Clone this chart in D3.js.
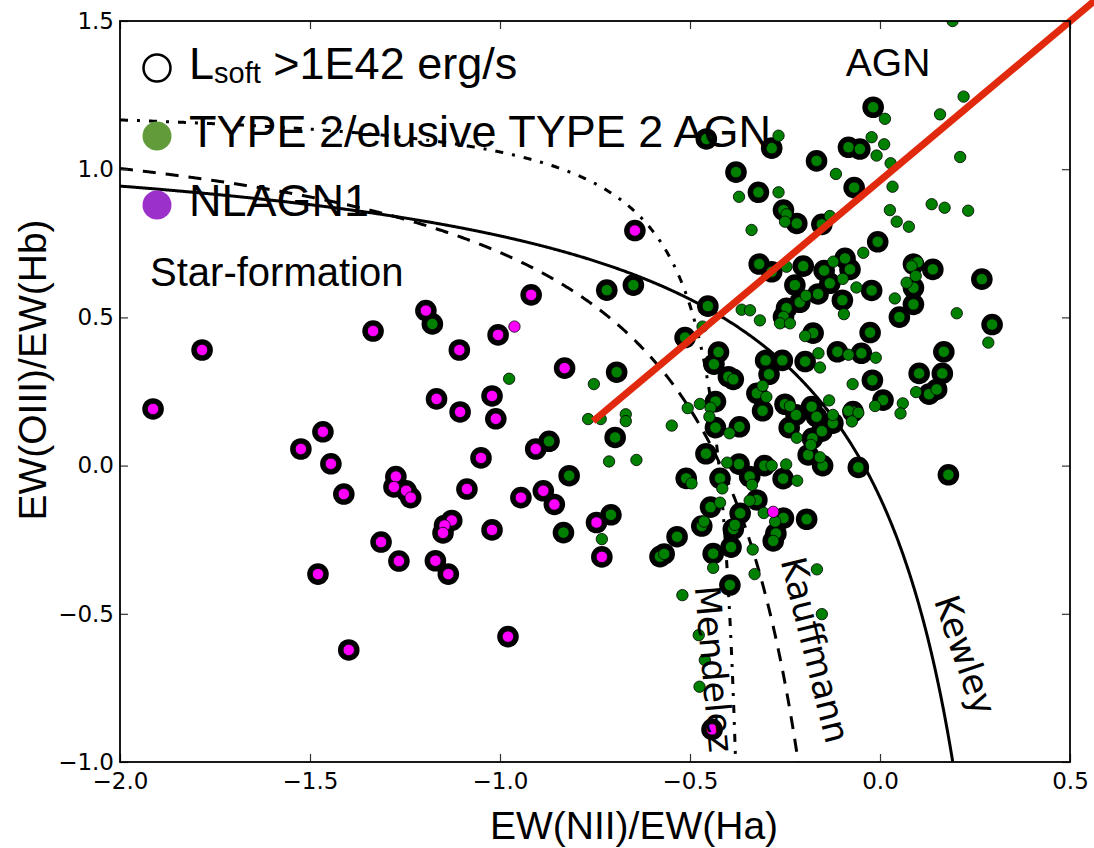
<!DOCTYPE html>
<html>
<head>
<meta charset="utf-8">
<script src="https://cdn.jsdelivr.net/npm/d3@7"></script>
<style>
  html, body { margin: 0; padding: 0; background: #fff; }
  svg { display: block; }
</style>
</head>
<body>
<svg id="chart" width="1094" height="848"></svg>
<script>
// ---- axis settings -------------------------------------------------------
const xDomain = [-2.0, 0.5];
const yDomain = [-1.0, 1.5];
const xTicks = [-2.0, -1.5, -1.0, -0.5, 0.0, 0.5];
const yTicks = [-1.0, -0.5, 0.0, 0.5, 1.0, 1.5];

// ---- demarcation curves: y = a / (x - b) + c -----------------------------
const kewleyCoef    = { a: 0.61,  b: 0.47,    c: 1.19 };
const kauffmannCoef = { a: 0.61,  b: 0.05,    c: 1.30 };
const mendelezCoef  = { a: 0.122, b: -0.3255, c: 1.239 };

// straight AGN / star-formation separator [x, y]
const separatorLine = [[-0.755, 0.15], [0.58, 1.585]];

// ---- sources: [log EW(NII)/EW(Ha), log EW(OIII)/EW(Hb)] ------------------
// NLAGN1 with L_soft > 1E42 erg/s
const nlagn1Bright = [
  [-0.918, 0.576], [-1.195, 0.523], [-1.334, 0.454], [-1.784, 0.390], [-1.005, 0.441],
  [-1.107, 0.390], [-1.913, 0.191], [-0.830, 0.329], [-1.167, 0.225], [-1.021, 0.235],
  [-1.105, 0.181], [-1.011, 0.158], [-1.466, 0.114], [-1.524, 0.056], [-1.445, 0.006],
  [-1.411, -0.096], [-1.274, -0.037], [-1.279, -0.072], [-1.247, -0.085], [-1.235, -0.108],
  [-1.087, -0.079], [-1.050, 0.026], [-0.906, 0.056], [-0.945, -0.108], [-0.886, -0.085],
  [-0.857, -0.131], [-1.127, -0.185], [-1.146, -0.202], [-1.150, -0.227], [-1.021, -0.217],
  [-1.313, -0.258], [-1.266, -0.322], [-1.170, -0.321], [-1.136, -0.366], [-1.479, -0.366],
  [-1.398, -0.622], [-0.979, -0.577], [-0.746, -0.192], [-0.732, -0.308], [-0.645, 0.793],
  [-0.442, -0.890]
];
// NLAGN1 below the luminosity cut
const nlagn1Faint = [[-0.962, 0.469], [-0.281, -0.156]];

// TYPE 2 / elusive TYPE 2 AGN with L_soft > 1E42 erg/s
const type2Bright = [
  [-1.178, 0.478], [-0.871, 0.082], [-0.818, -0.034], [-0.833, -0.226], [-0.708, -0.166],
  [-0.693, 0.315], [-0.697, 0.095], [-0.719, 0.592], [-0.649, 0.609], [-0.457, 1.102],
  [-0.379, 0.990], [-0.320, 0.922], [-0.318, 0.680], [-0.453, 0.538], [-0.513, 0.432],
  [-0.425, 0.383], [-0.437, 0.342], [-0.399, 0.300], [-0.386, 0.291], [-0.433, 0.216],
  [-0.433, 0.128], [-0.370, 0.131], [-0.324, 0.244], [-0.458, 0.040], [-0.371, 0.005],
  [-0.343, -0.037], [-0.421, -0.043], [-0.510, -0.043], [-0.446, -0.140], [-0.368, -0.161],
  [-0.324, -0.116], [-0.469, -0.204], [-0.386, -0.214], [-0.392, -0.275], [-0.534, -0.240],
  [-0.579, -0.307], [-0.568, -0.298], [-0.439, -0.297], [-0.395, -0.403], [-0.274, -0.229],
  [-0.281, -0.254], [-0.254, -0.177], [-0.193, -0.181], [-0.255, -0.044], [-0.304, 0.000],
  [-0.151, 0.000], [-0.057, -0.006], [0.180, -0.031], [-0.189, 0.036], [-0.178, 0.092],
  [-0.153, 0.116], [-0.239, 0.128], [-0.221, 0.171], [-0.180, 0.199], [-0.167, 0.165],
  [-0.124, 0.143], [-0.250, 0.207], [-0.309, 0.185], [-0.292, 0.308], [-0.301, 0.355],
  [-0.257, 0.355], [-0.197, 0.351], [-0.176, 0.447], [-0.112, 0.384], [-0.049, 0.379],
  [-0.026, 0.449], [-0.020, 0.288], [0.008, 0.221], [-0.071, 0.182], [0.103, 0.311],
  [0.164, 0.311], [0.129, 0.241], [0.149, 0.257], [0.168, 0.384], [0.295, 0.476],
  [0.051, 0.501], [0.088, 0.544], [0.088, 0.600], [0.088, 0.680], [0.139, 0.662],
  [0.268, 0.629], [-0.022, 0.591], [-0.099, 0.558], [-0.132, 0.615], [-0.092, 0.699],
  [-0.079, 0.662], [-0.147, 0.658], [-0.202, 0.673], [-0.285, 0.654], [-0.224, 0.609],
  [-0.163, 0.579], [-0.211, 0.551], [-0.246, 0.531], [-0.254, 0.502], [-0.006, 0.755],
  [-0.068, 0.938], [-0.167, 1.028], [-0.083, 1.074], [-0.053, 1.068], [-0.018, 1.209],
  [-0.285, 1.071], [-0.254, 0.862], [-0.219, 0.817], [-0.153, 0.814]
];
// TYPE 2 / elusive TYPE 2 AGN below the luminosity cut
const type2Faint = [
  [-0.976, 0.293], [-0.753, 0.275], [-0.768, 0.157], [-0.735, 0.157], [-0.669, 0.173],
  [-0.669, 0.150], [-0.713, 0.014], [-0.641, 0.019], [-0.548, 0.135], [-0.732, -0.248],
  [-0.467, 0.469], [-0.371, 0.907], [-0.338, 0.795], [-0.364, 0.526], [-0.342, 0.524],
  [-0.316, 0.490], [-0.267, 1.113], [0.013, 1.170], [0.220, 1.245], [0.158, 1.185],
  [-0.022, 1.108], [0.011, 1.084], [-0.009, 1.046], [0.028, 1.020], [-0.116, 0.984],
  [0.033, 0.941], [0.211, 1.041], [-0.267, 0.922], [0.136, 0.882], [0.170, 0.870],
  [0.232, 0.860], [0.026, 0.862], [0.044, 0.823], [0.076, 0.806], [-0.246, 0.848],
  [-0.250, 0.823], [-0.132, 0.842], [-0.044, 0.718], [-0.246, 0.671], [-0.123, 0.688],
  [-0.098, 0.630], [-0.195, 0.573], [-0.062, 0.601], [-0.095, 0.511], [0.039, 0.564],
  [0.099, 0.686], [0.083, 0.673], [0.094, 0.640], [0.070, 0.617], [0.202, 0.514],
  [-0.263, 0.480], [-0.237, 0.480], [0.285, 0.415], [0.095, 0.248], [0.060, 0.210],
  [0.054, 0.176], [-0.013, 0.201], [-0.072, 0.275], [-0.083, 0.374], [-0.011, 0.364],
  [-0.197, 0.437], [-0.162, 0.379], [-0.158, 0.331], [-0.309, 0.269], [-0.299, 0.232],
  [-0.237, 0.201], [-0.134, 0.220], [-0.124, 0.171], [-0.083, 0.185], [-0.057, 0.178],
  [-0.074, 0.149], [-0.219, 0.094], [-0.182, 0.070], [-0.158, 0.028], [-0.285, 0.000],
  [-0.247, 0.004], [-0.218, -0.051], [-0.343, -0.118], [-0.306, -0.160], [-0.276, -0.189],
  [-0.335, -0.283], [-0.330, -0.366], [-0.166, -0.350], [-0.153, -0.501], [-0.520, -0.437],
  [-0.477, -0.572], [-0.461, -0.656], [-0.475, -0.746], [-0.439, -0.345], [-0.474, 0.208],
  [-0.506, 0.194], [-0.446, 0.195], [-0.449, 0.165], [-0.396, 0.109], [-0.402, 0.010],
  [-0.415, -0.077], [-0.496, -0.060], [-0.421, -0.125], [-0.463, -0.189], [-0.382, -0.200],
  [-0.337, -0.065], [0.191, 1.500]
];

// ---- layout --------------------------------------------------------------
const plot = { left: 120, right: 1070, top: 21, bottom: 762 };
const SANS = "'Liberation Sans', Arial, Helvetica, sans-serif";
const DEJAVU = "'DejaVu Sans', sans-serif";

const svg = d3.select('#chart');
const x = d3.scaleLinear().domain(xDomain).range([plot.left, plot.right]);
const y = d3.scaleLinear().domain(yDomain).range([plot.bottom, plot.top]);

svg.append('defs').append('clipPath').attr('id', 'plot-area')
  .append('rect')
  .attr('x', plot.left).attr('y', plot.top)
  .attr('width', plot.right - plot.left).attr('height', plot.bottom - plot.top);

const inner = svg.append('g').attr('clip-path', 'url(#plot-area)');

// ---- demarcation curves --------------------------------------------------
function curvePoints(c) {
  const xStop = c.b + c.a / (yDomain[0] - c.c);   // where the curve meets the bottom axis
  const xs = d3.range(xDomain[0], xStop, 0.002).concat([xStop]);
  return xs.map(v => [v, c.a / (v - c.b) + c.c]);
}
const line = d3.line().x(d => x(d[0])).y(d => y(d[1]));

const curves = [
  { coef: kewleyCoef,    dash: null },
  { coef: kauffmannCoef, dash: '13,10' },
  { coef: mendelezCoef,  dash: '8,9,3,9' }
];
inner.selectAll('path.curve').data(curves).join('path')
  .attr('class', 'curve')
  .attr('d', d => line(curvePoints(d.coef)))
  .attr('fill', 'none')
  .attr('stroke', '#000')
  .attr('stroke-width', 3)
  .attr('stroke-dasharray', d => d.dash);

// ---- sources -------------------------------------------------------------
const RING_R = 10.8, DOT_R = 5.7;
const bright = type2Bright.concat(nlagn1Bright);

inner.append('g').selectAll('circle').data(bright).join('circle')
  .attr('cx', d => x(d[0])).attr('cy', d => y(d[1])).attr('r', RING_R)
  .attr('fill', '#000');

const dotGroups = [
  { pts: type2Bright.concat(type2Faint), fill: '#008000' },
  { pts: nlagn1Bright.concat(nlagn1Faint), fill: '#ff00ff' }
];
dotGroups.forEach(gp => {
  inner.append('g').selectAll('circle').data(gp.pts).join('circle')
    .attr('cx', d => x(d[0])).attr('cy', d => y(d[1])).attr('r', DOT_R)
    .attr('fill', gp.fill)
    .attr('stroke', '#000').attr('stroke-width', 0.8);
});

// ---- separator line (drawn past the frame) -------------------------------
svg.append('path')
  .attr('d', line(separatorLine))
  .attr('stroke', '#e12a0d')
  .attr('stroke-width', 7)
  .attr('fill', 'none');

// ---- frame and ticks -----------------------------------------------------
const tickStyle = g => {
  g.select('.domain').remove();
  g.selectAll('.tick line').attr('stroke', '#333').attr('stroke-width', 1.2);
  g.selectAll('.tick text').attr('font-family', DEJAVU).attr('font-size', 23).attr('fill', '#000');
};
const fmt = d3.format('.1f');

svg.append('g').attr('transform', `translate(0,${plot.bottom})`)
  .call(d3.axisBottom(x).tickValues(xTicks).tickFormat(fmt).tickSizeInner(-8).tickSizeOuter(0).tickPadding(11))
  .call(tickStyle);
svg.append('g').attr('transform', `translate(0,${plot.top})`)
  .call(d3.axisTop(x).tickValues(xTicks).tickFormat('').tickSizeInner(-8).tickSizeOuter(0))
  .call(tickStyle);
svg.append('g').attr('transform', `translate(${plot.left},0)`)
  .call(d3.axisLeft(y).tickValues(yTicks).tickFormat(fmt).tickSizeInner(-8).tickSizeOuter(0).tickPadding(6))
  .call(tickStyle);
svg.append('g').attr('transform', `translate(${plot.right},0)`)
  .call(d3.axisRight(y).tickValues(yTicks).tickFormat('').tickSizeInner(-8).tickSizeOuter(0))
  .call(tickStyle);

svg.append('rect')
  .attr('x', plot.left).attr('y', plot.top)
  .attr('width', plot.right - plot.left).attr('height', plot.bottom - plot.top)
  .attr('fill', 'none').attr('stroke', '#000').attr('stroke-width', 1.8);

// ---- axis titles ---------------------------------------------------------
svg.append('text')
  .attr('x', 634).attr('y', 839)
  .attr('text-anchor', 'middle')
  .attr('font-family', SANS).attr('font-size', 39)
  .text('EW(NII)/EW(Ha)');
svg.append('text')
  .attr('transform', 'translate(46,370) rotate(-90)')
  .attr('text-anchor', 'middle')
  .attr('font-family', SANS).attr('font-size', 39)
  .text('EW(OIII)/EW(Hb)');

// ---- region and curve labels ---------------------------------------------
svg.append('text')
  .attr('x', x(-0.09)).attr('y', y(1.314))
  .attr('font-family', SANS).attr('font-size', 39)
  .text('AGN');
svg.append('text')
  .attr('x', x(-1.921)).attr('y', y(0.606))
  .attr('font-family', SANS).attr('font-size', 40)
  .text('Star-formation');

const curveLabels = [
  { text: 'Kewley',    at: [0.224, -0.639],  angle: 71 },
  { text: 'Kauffmann', at: [-0.171, -0.622], angle: 76 },
  { text: 'Mendelez',  at: [-0.437, -0.686], angle: 85 }
];
svg.selectAll('text.curve-label').data(curveLabels).join('text')
  .attr('class', 'curve-label')
  .attr('transform', d => `translate(${x(d.at[0])},${y(d.at[1])}) rotate(${d.angle})`)
  .attr('text-anchor', 'middle')
  .attr('dominant-baseline', 'central')
  .attr('font-family', DEJAVU).attr('font-size', 35)
  .text(d => d.text);

// ---- legend --------------------------------------------------------------
const legend = svg.append('g').attr('font-family', SANS).attr('font-size', 45);

legend.append('circle').attr('cx', 157).attr('cy', 68).attr('r', 13.5)
  .attr('fill', 'none').attr('stroke', '#000').attr('stroke-width', 2.5);
const lsoft = legend.append('text').attr('x', 189).attr('y', 79);
lsoft.append('tspan').text('L');
lsoft.append('tspan').attr('font-size', 29).attr('dy', 4).text('soft');
lsoft.append('tspan').attr('dy', -4).text(' >1E42 erg/s');

legend.append('circle').attr('cx', 157).attr('cy', 136).attr('r', 14.5).attr('fill', '#629b3a');
legend.append('text').attr('x', 189).attr('y', 147).text('TYPE 2/elusive TYPE 2 AGN');

legend.append('circle').attr('cx', 157).attr('cy', 205).attr('r', 14.5).attr('fill', '#9b31c8');
legend.append('text').attr('x', 189).attr('y', 216).text('NLAGN1');
</script>
</body>
</html>
